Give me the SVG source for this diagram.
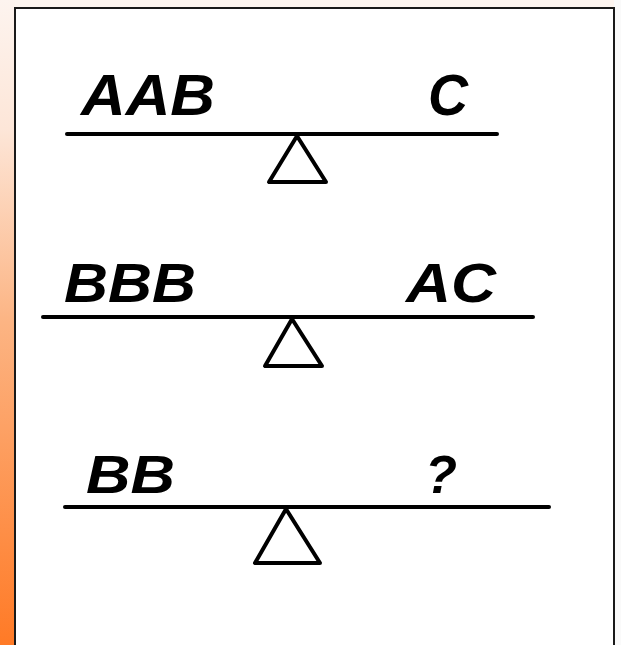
<svg xmlns="http://www.w3.org/2000/svg" width="621" height="645" viewBox="0 0 621 645">
<defs>
<linearGradient id="bg" x1="0" y1="0" x2="0" y2="1">
<stop offset="0" stop-color="#fdf4ef"/>
<stop offset="0.2" stop-color="#fde6d8"/>
<stop offset="0.5" stop-color="#fcb483"/>
<stop offset="1" stop-color="#ff7a26"/>
</linearGradient>
<style>
.beam{stroke:#000;stroke-width:4;stroke-linecap:round;fill:none}
.pivot{stroke:#000;stroke-width:4;stroke-linejoin:round;fill:#fff}
.lbl{font-family:"Liberation Sans",Arial,sans-serif;font-weight:bold;font-style:italic;fill:#000}
</style>
</defs>
<rect x="0" y="0" width="621" height="645" fill="#fdf5f0"/>
<rect x="0" y="0" width="15" height="645" fill="url(#bg)"/>
<rect x="614" y="0" width="7" height="645" fill="#fafafa"/>
<rect x="15" y="8" width="599" height="645" fill="#fff" stroke="#1a1a1a" stroke-width="2"/>
<g id="connectors"></g>
<g id="balance1">
<line class="beam" x1="67" y1="134" x2="497" y2="134"/>
<polygon class="pivot" points="297,136 269,182 326,182"/>
<text class="lbl" x="81" y="115" font-size="58" textLength="134" lengthAdjust="spacingAndGlyphs">AAB</text>
<text class="lbl" x="428" y="115" font-size="58" textLength="40" lengthAdjust="spacingAndGlyphs">C</text>
</g>
<g id="balance2">
<line class="beam" x1="43" y1="317" x2="533" y2="317"/>
<polygon class="pivot" points="292,319 265,366 322,366"/>
<text class="lbl" x="64" y="302" font-size="55" textLength="132" lengthAdjust="spacingAndGlyphs">BBB</text>
<text class="lbl" x="406" y="302" font-size="55" textLength="90" lengthAdjust="spacingAndGlyphs">AC</text>
</g>
<g id="balance3">
<line class="beam" x1="65" y1="507" x2="549" y2="507"/>
<polygon class="pivot" points="286,509 255,563 320,563"/>
<text class="lbl" x="86" y="493" font-size="54" textLength="89" lengthAdjust="spacingAndGlyphs">BB</text>
<text class="lbl" x="425" y="493" font-size="54" textLength="32" lengthAdjust="spacingAndGlyphs">?</text>
</g>
</svg>
